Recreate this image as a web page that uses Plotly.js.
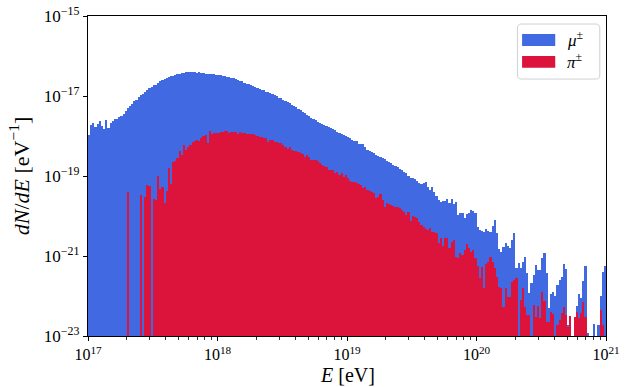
<!DOCTYPE html>
<html>
<head>
<meta charset="utf-8">
<script src="https://cdn.plot.ly/plotly-3.0.1.min.js"></script>
<style>html,body{margin:0;padding:0;background:#fff;}#chart{width:633px;height:387px;}</style>
</head>
<body>
<div id="chart"></div>
<script>
// Histogram binning: 240 log-spaced bins between 1e17 and 1e21 eV
const logEmin = 17;
const logEmax = 21;
const nBins = 240;

// log10(dN/dE) per bin (null = empty bin)
const muLog10 = [
-17.98,-17.73,-17.68,-17.78,-17.70,-17.63,-17.75,-17.83,-17.60,-17.80,
-17.68,-17.63,-17.58,-17.58,-17.53,-17.50,-17.45,-17.38,-17.30,-17.25,
-17.20,-17.13,-17.10,-17.03,-16.98,-16.95,-16.90,-16.85,-16.80,-16.78,
-16.73,-16.73,-16.68,-16.63,-16.60,-16.58,-16.55,-16.53,-16.50,-16.50,
-16.48,-16.45,-16.45,-16.43,-16.43,-16.40,-16.40,-16.40,-16.40,-16.40,
-16.43,-16.40,-16.43,-16.43,-16.45,-16.45,-16.45,-16.45,-16.45,-16.48,
-16.48,-16.48,-16.50,-16.50,-16.53,-16.53,-16.55,-16.55,-16.58,-16.60,
-16.63,-16.63,-16.68,-16.70,-16.70,-16.73,-16.75,-16.78,-16.80,-16.83,
-16.85,-16.85,-16.90,-16.90,-16.93,-16.95,-16.98,-17.00,-17.05,-17.05,
-17.10,-17.13,-17.15,-17.18,-17.23,-17.25,-17.28,-17.33,-17.35,-17.40,
-17.43,-17.48,-17.50,-17.55,-17.58,-17.60,-17.65,-17.68,-17.70,-17.73,
-17.75,-17.78,-17.80,-17.83,-17.85,-17.90,-17.93,-17.95,-17.98,-18.00,
-18.03,-18.05,-18.10,-18.13,-18.13,-18.20,-18.20,-18.20,-18.28,-18.35,
-18.38,-18.40,-18.43,-18.48,-18.50,-18.53,-18.55,-18.58,-18.63,-18.65,
-18.68,-18.73,-18.75,-18.78,-18.83,-18.85,-18.90,-18.93,-19.00,-19.05,
-19.05,-19.08,-19.13,-19.18,-19.20,-19.18,-19.15,-19.28,-19.35,-19.28,
-19.40,-19.50,-19.60,-19.65,-19.63,-19.63,-19.58,-19.68,-19.58,-19.70,
-19.65,-19.98,-19.93,-19.93,-20.05,-19.95,-19.93,-19.85,-19.88,-19.93,
-20.28,-20.35,-20.38,-20.40,-20.33,-20.38,-20.40,-20.25,-20.10,-20.43,
-20.83,-20.90,-20.78,-20.68,-20.75,-20.80,-20.60,-20.43,-21.30,-21.18,
-21.30,-21.15,-21.03,-21.43,-21.93,-21.68,-21.48,-21.23,-21.35,-21.35,
-21.05,-20.93,-21.43,-22.30,-21.95,-21.90,-22.00,-21.73,-21.60,-21.53,
-21.20,-21.33,-22.73,-22.93,null,-22.53,-22.25,-21.95,-22.05,-21.63,
-21.25,-22.93,null,null,-22.70,null,-22.73,-22.00,-21.40,-21.25
];

const piLog10 = [
null,null,null,null,null,null,null,null,null,null,
null,null,null,null,null,null,null,null,-19.40,null,
null,null,null,null,-19.48,null,-19.53,-19.23,-19.25,null,
-19.58,-19.60,-19.00,-19.33,-19.28,-19.68,-19.38,-18.80,-19.20,-18.65,
-18.63,-18.55,-18.38,-18.48,-18.23,-18.35,-18.28,-18.23,-18.15,-18.13,
-18.10,-18.13,-18.05,-18.00,-17.98,-18.18,-17.88,-17.95,-17.93,-17.93,
-17.93,-17.90,-17.90,-17.88,-17.88,-17.93,-17.90,-17.90,-17.90,-17.95,
-17.90,-17.93,-17.93,-17.95,-17.95,-17.95,-17.95,-17.98,-18.00,-18.03,
-18.03,-18.05,-18.05,-18.15,-18.10,-18.10,-18.15,-18.15,-18.18,-18.18,
-18.23,-18.28,-18.33,-18.28,-18.35,-18.38,-18.38,-18.40,-18.43,-18.45,
-18.53,-18.48,-18.53,-18.60,-18.60,-18.60,-18.63,-18.68,-18.73,-18.75,
-18.78,-18.85,-18.85,-18.85,-18.93,-18.90,-18.98,-18.93,-19.03,-18.98,
-19.05,-19.13,-19.15,-19.15,-19.18,-19.20,-19.23,-19.30,-19.28,-19.35,
-19.38,-19.40,-19.43,-19.55,-19.53,-19.45,-19.60,-19.78,-19.68,-19.70,
-19.73,-19.75,-19.78,-19.78,-19.80,-19.85,-19.90,-19.98,-19.90,-20.13,
-20.00,-20.03,-20.05,-20.15,-20.23,-20.28,-20.33,-20.35,-20.30,-20.40,
-20.40,-20.43,-20.68,-20.55,-20.75,-20.55,-20.55,-20.80,-20.65,-20.60,
-21.03,-21.05,-20.93,-20.98,-20.85,-20.70,-20.80,-20.90,-20.85,-21.05,
-21.25,-21.55,-21.28,-21.80,-21.20,-21.15,-21.03,-21.15,-21.30,-21.53,
-21.78,-21.80,-22.28,-21.80,-22.03,-22.03,-21.65,-21.60,-21.55,null,
-22.10,-21.80,-22.28,-22.48,-22.48,null,-22.23,-22.53,-22.25,-22.55,
-21.90,-22.13,-22.65,-22.65,-22.40,-22.45,null,-22.73,-22.60,-22.43,
-22.28,-22.48,-22.78,-22.50,null,-22.53,-22.40,-22.55,-22.43,-22.15,
-22.53,null,null,null,null,null,null,-22.35,-22.73,null
];

const xTickExps = [17, 18, 19, 20, 21];
const yTickExps = [-23, -21, -19, -17, -15];
const seriesNames = ['μ±', 'π±'];
const seriesColors = ['#4169E1', '#DC143C'];

const binWidth = (logEmax - logEmin) / nBins;
const centers = [];
for (let i = 0; i < nBins; i++) centers.push(logEmin + (i + 0.5) * binWidth);
const toVal = a => a.map(v => v === null ? null : Math.pow(10, v));

const minorVals = [];
for (let d = logEmin; d < logEmax; d++) for (let k = 2; k <= 9; k++) minorVals.push(d + Math.log10(k));

const sup = n => String(n).replace('-', '−');
const FONT = 'Liberation Serif, Times New Roman, serif';

const traces = [
  {type: 'bar', name: seriesNames[0], x: centers, y: toVal(muLog10), width: binWidth,
   marker: {color: seriesColors[0], line: {width: 0}}, showlegend: false},
  {type: 'bar', name: seriesNames[1], x: centers, y: toVal(piLog10), width: binWidth,
   marker: {color: seriesColors[1], line: {width: 0}}, showlegend: false}
];

// legend geometry (paper coordinates)
const lg = {x0: 0.829, x1: 0.988, y0: 0.803, y1: 0.975, r: 0.008};
const ry = lg.r * 518 / 320;
const legendPath = `M${lg.x0 + lg.r},${lg.y1} L${lg.x1 - lg.r},${lg.y1} Q${lg.x1},${lg.y1} ${lg.x1},${lg.y1 - ry} L${lg.x1},${lg.y0 + ry} Q${lg.x1},${lg.y0} ${lg.x1 - lg.r},${lg.y0} L${lg.x0 + lg.r},${lg.y0} Q${lg.x0},${lg.y0} ${lg.x0},${lg.y0 + ry} L${lg.x0},${lg.y1 - ry} Q${lg.x0},${lg.y1} ${lg.x0 + lg.r},${lg.y1} Z`;

const layout = {
  width: 633, height: 387,
  margin: {l: 88, r: 27, t: 16, b: 51, pad: 0},
  paper_bgcolor: '#fff', plot_bgcolor: '#fff',
  barmode: 'overlay', bargap: 0,
  font: {family: FONT, size: 17, color: '#000'},
  xaxis: {
    range: [logEmin, logEmax], showgrid: false, zeroline: false,
    showline: true, mirror: true, linecolor: '#000', linewidth: 1.2,
    ticks: 'outside', ticklen: 4, tickwidth: 1, tickcolor: '#000',
    tickmode: 'array', tickvals: xTickExps, ticktext: xTickExps.map(e => '10<sup>' + sup(e) + '</sup>'),
    tickfont: {size: 16},
    minor: {tickmode: 'array', tickvals: minorVals, ticks: 'outside', ticklen: 2.5, tickwidth: 0.8, tickcolor: '#000', showgrid: false}
  },
  yaxis: {
    type: 'log', range: [-23, -15], showgrid: false, zeroline: false,
    showline: true, mirror: true, linecolor: '#000', linewidth: 1.2,
    ticks: 'outside', ticklen: 4, tickwidth: 1, tickcolor: '#000',
    tickmode: 'array', tickvals: yTickExps.map(e => Math.pow(10, e)), ticktext: yTickExps.map(e => '10<sup>' + sup(e) + '</sup>'),
    tickfont: {size: 17},
    title: {text: '<i>dN</i>/<i>dE</i> [eV<sup>−1</sup>]', font: {size: 22}, standoff: 8}
  },
  shapes: [
    {type: 'path', xref: 'paper', yref: 'paper', path: legendPath, line: {color: '#d0d0d0', width: 1}, fillcolor: 'rgba(255,255,255,0.8)'},
    {type: 'rect', xref: 'paper', yref: 'paper', x0: 0.838, x1: 0.902, y0: 0.906, y1: 0.944, line: {width: 0}, fillcolor: seriesColors[0]},
    {type: 'rect', xref: 'paper', yref: 'paper', x0: 0.838, x1: 0.902, y0: 0.838, y1: 0.875, line: {width: 0}, fillcolor: seriesColors[1]}
  ],
  annotations: [
    {xref: 'paper', yref: 'paper', x: 0.5, y: -0.122, xanchor: 'center', yanchor: 'middle', showarrow: false,
     text: '<i>E</i> [eV]', font: {size: 20}},
    {xref: 'paper', yref: 'paper', x: 0.921, y: 0.927, xanchor: 'left', yanchor: 'middle', showarrow: false,
     text: '<i>μ</i><sup>±</sup>', font: {size: 17}},
    {xref: 'paper', yref: 'paper', x: 0.921, y: 0.858, xanchor: 'left', yanchor: 'middle', showarrow: false,
     text: '<i>π</i><sup>±</sup>', font: {size: 17}}
  ]
};

Plotly.newPlot('chart', traces, layout, {displayModeBar: false, staticPlot: true});
</script>
</body>
</html>
